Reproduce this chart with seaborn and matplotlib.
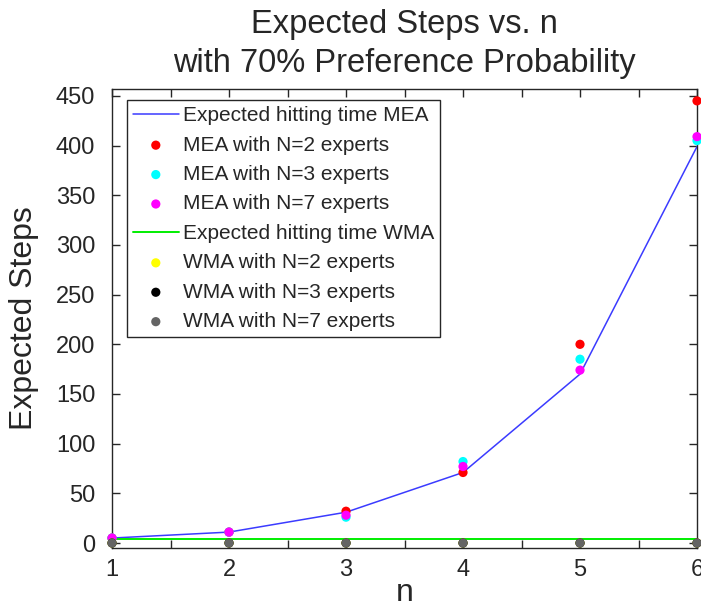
import numpy as np
import pandas as pd
import matplotlib
matplotlib.use("Agg")
import matplotlib.pyplot as plt
import seaborn as sns

# values
n_values = [1, 2, 3, 4, 5, 6]
mea_expected = [5, 11, 31, 71, 170, 399]
mea_n2 = [5, 11, 32, 71, 200, 445]
mea_n3 = [5, 11, 26, 82, 185, 405]
mea_n7 = [5, 11, 28, 77, 174, 409]
wma_expected = [4, 4, 4, 4, 4, 4]
wma_n2 = [0, 0, 0, 0, 0, 0]
wma_n3 = [0, 0, 0, 0, 0, 0]
wma_n7 = [0, 0, 0, 0, 0, 0]

sns.set_style("ticks")
plt.rcParams["font.family"] = ["Liberation Sans", "DejaVu Sans"]

fig = plt.figure(figsize=(7.01, 6.08), dpi=100)
ax = fig.add_axes([0.1598, 0.0987, 0.8345, 0.755])

DOT = 44
handles = []

sns.lineplot(x=n_values, y=mea_expected, ax=ax, color="#3b3bff", lw=1.1,
             label="Expected hitting time MEA", legend=False)
handles.append(ax.lines[-1])

point_series = [
    (mea_n2, "#ff0000", "MEA with N=2 experts"),
    (mea_n3, "#00ffff", "MEA with N=3 experts"),
    (mea_n7, "#ff00ff", "MEA with N=7 experts"),
]
for vals, color, label in point_series:
    sns.scatterplot(x=n_values, y=vals, ax=ax, color=color, s=DOT,
                    edgecolor="none", label=label, legend=False, zorder=3)
    handles.append(ax.collections[-1])

sns.lineplot(x=n_values, y=wma_expected, ax=ax, color="#00ee00", lw=1.4,
             label="Expected hitting time WMA", legend=False)
handles.append(ax.lines[-1])

point_series = [
    (wma_n2, "#ffff00", "WMA with N=2 experts"),
    (wma_n3, "#000000", "WMA with N=3 experts"),
    (wma_n7, "#646464", "WMA with N=7 experts"),
]
for vals, color, label in point_series:
    sns.scatterplot(x=n_values, y=vals, ax=ax, color=color, s=DOT,
                    edgecolor="none", label=label, legend=False, zorder=3)
    handles.append(ax.collections[-1])

for c in ax.collections:
    c.set_clip_on(False)

ax.set_xlim(1, 6)
ax.set_ylim(-5, 457)
ax.set_xticks(n_values)
ax.set_xticks(np.arange(1, 6.01, 0.5), minor=True)
ax.set_yticks(np.arange(0, 451, 50))
ax.tick_params(direction="in", which="both", top=True, right=True,
               labelsize=17, length=6, width=1, color="#262626")
ax.tick_params(axis="x", pad=8)
ax.tick_params(axis="y", pad=12)
for s in ax.spines.values():
    s.set_color("#262626")
    s.set_linewidth(1.0)

ax.set_xlabel("n", fontsize=23, labelpad=-2)
ax.set_ylabel("Expected Steps", fontsize=23, labelpad=12)
ax.set_title("Expected Steps vs. n\nwith 70% Preference Probability",
             fontsize=23.5, pad=12, linespacing=1.35)

leg = ax.legend(handles=handles,
                labels=[h.get_label() for h in handles],
                loc="upper left", bbox_to_anchor=(0.025, 0.976),
                borderaxespad=0, fontsize=15, frameon=True, fancybox=False,
                edgecolor="#262626", framealpha=1, handlelength=2.2,
                handletextpad=0.2, labelspacing=0.5, borderpad=0.3,
                scatterpoints=1)
leg.get_frame().set_linewidth(1.0)

fig.savefig("out.png", dpi=100)
